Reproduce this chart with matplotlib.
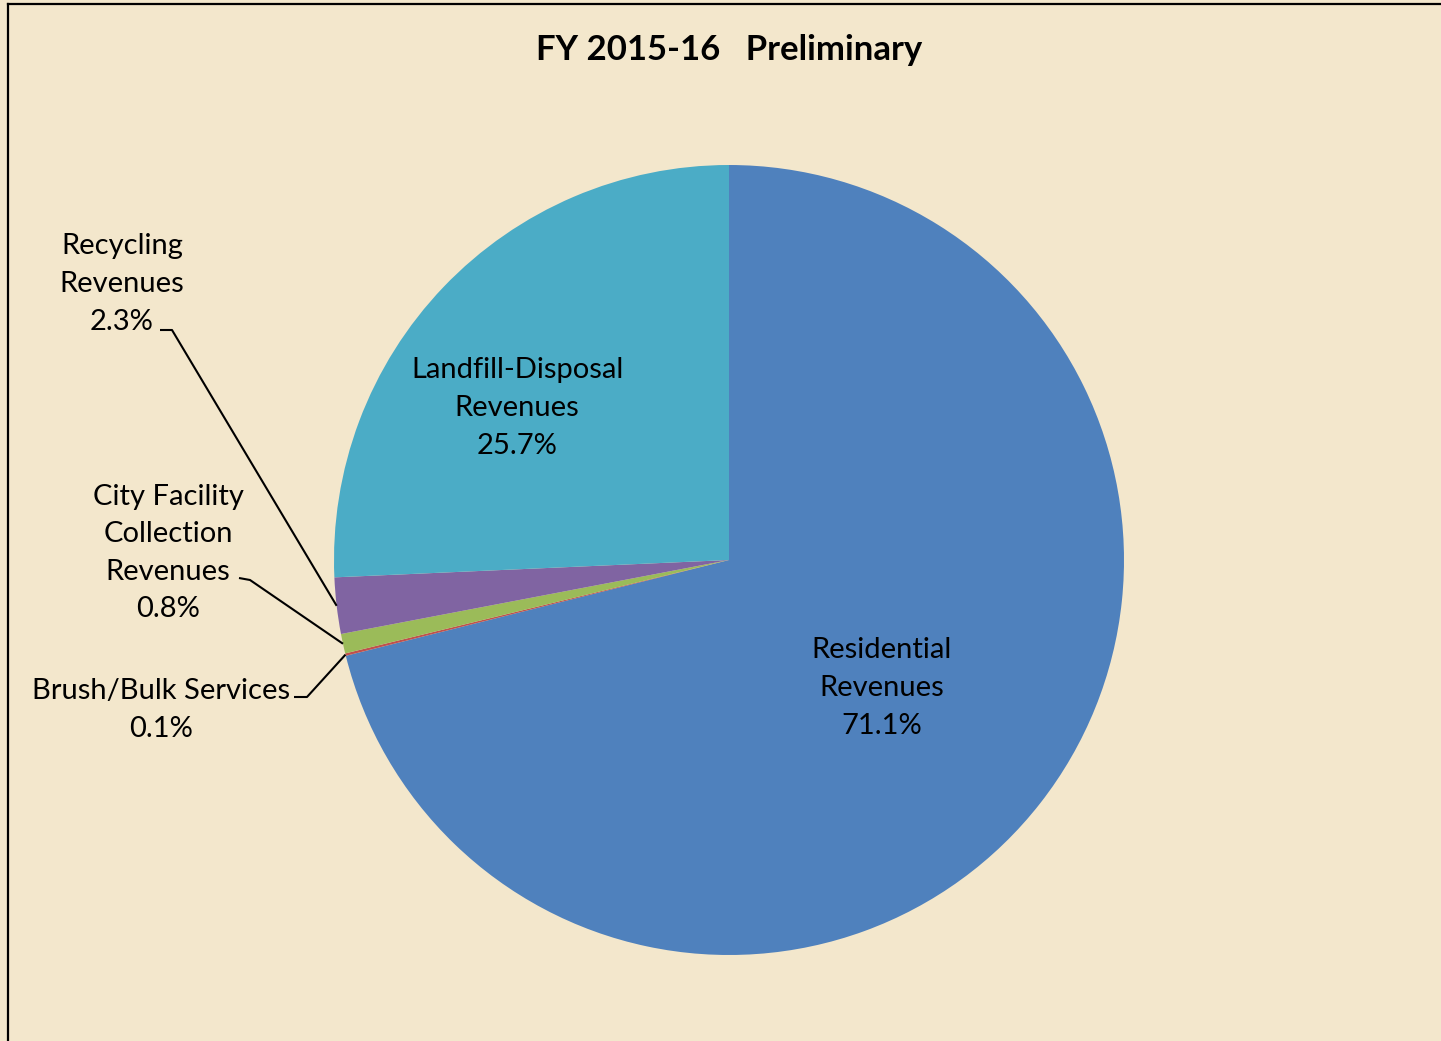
import matplotlib
matplotlib.use('Agg')
import matplotlib.pyplot as plt
import numpy as np

plt.rcParams['font.family'] = ['Lato', 'DejaVu Sans']

categories = ['Residential\nRevenues', 'Brush/Bulk Services', 'City Facility\nCollection\nRevenues',
              'Recycling\nRevenues', 'Landfill-Disposal\nRevenues']
shares = [71.1, 0.1, 0.8, 2.3, 25.7]
colors = ['#4F81BD', '#C0504D', '#9BBB59', '#8064A2', '#4BACC6']

W, H = 1441, 1041
bg = '#F3E7CC'

fig = plt.figure(figsize=(W / 100, H / 100), dpi=100)
fig.patch.set_facecolor(bg)

# frame (runs off the right and bottom edges like the screenshot)
fig.add_artist(plt.Line2D([8 / W, 8 / W], [0, 1 - 4 / H], color='black', lw=1.6))
fig.add_artist(plt.Line2D([8 / W, 1], [1 - 4 / H, 1 - 4 / H], color='black', lw=1.6))

# pie axes: center (729, 560) px, radius 395 px
cx, cy, r = 729, 560, 395
ax = fig.add_axes([(cx - r) / W, (H - cy - r) / H, 2 * r / W, 2 * r / H])

wedges, _ = ax.pie(shares, colors=colors, startangle=90, counterclock=False,
                   radius=1, wedgeprops=dict(linewidth=0))
ax.set_xlim(-1, 1)
ax.set_ylim(-1, 1)
ax.set_aspect('equal')
ax.axis('off')


def px(x, y):
    return ((x - cx) / r, (cy - y) / r)


def mid_point(w, rad=1.0):
    a = np.deg2rad((w.theta1 + w.theta2) / 2)
    return rad * np.cos(a), rad * np.sin(a)


fs = 21
ls = 1.55
labels = [f'{c}\n{s}%' for c, s in zip(categories, shares)]

# inside labels
ax.text(*px(882, 688), labels[0], ha='center', va='center', fontsize=fs, linespacing=ls)
ax.text(*px(517, 408), labels[4], ha='center', va='center', fontsize=fs, linespacing=ls)

# outside labels with leader lines
ax.text(*px(122, 284), labels[3], ha='center', va='center', fontsize=fs, linespacing=ls)
ax.text(*px(168, 553), labels[2], ha='center', va='center', fontsize=fs, linespacing=ls)
ax.text(*px(161, 710), labels[1], ha='center', va='center', fontsize=fs, linespacing=ls)

leaders = [
    (wedges[3], [(160, 330), (172, 330)]),
    (wedges[2], [(239, 578), (250, 580)]),
    (wedges[1], [(294, 697), (307, 697)]),
]
for w, pts in leaders:
    tx, ty = mid_point(w)
    xs = [px(*p)[0] for p in pts] + [tx]
    ys = [px(*p)[1] for p in pts] + [ty]
    ax.plot(xs, ys, color='black', lw=1.5, clip_on=False, solid_capstyle='butt')

fig.text(729 / W, 1 - 50 / H, 'FY 2015-16   Preliminary', ha='center', va='center',
         fontsize=25, fontweight='bold')

fig.savefig('out.png', dpi=100, facecolor=bg)
